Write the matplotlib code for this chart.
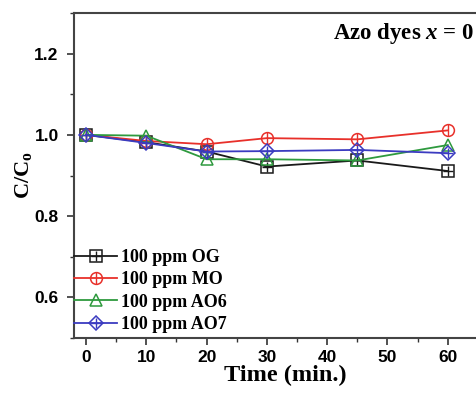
import matplotlib
matplotlib.use("Agg")
import matplotlib.pyplot as plt
from matplotlib.lines import Line2D
from matplotlib.ticker import MultipleLocator

# data
time_min = [0, 10, 20, 30, 45, 60]
og = [1.000, 0.982, 0.959, 0.922, 0.937, 0.911]
mo = [1.000, 0.985, 0.977, 0.992, 0.989, 1.011]
ao6 = [1.000, 0.998, 0.940, 0.940, 0.937, 0.975]
ao7 = [1.000, 0.980, 0.959, 0.960, 0.963, 0.955]
labels = ["100 ppm OG", "100 ppm MO", "100 ppm AO6", "100 ppm AO7"]

plt.rcParams['mathtext.fontset'] = 'custom'
plt.rcParams['mathtext.rm'] = 'Liberation Serif:bold'
plt.rcParams['mathtext.it'] = 'Liberation Serif:italic:bold'

fig = plt.figure(figsize=(4.76, 3.94), dpi=100)
ax = fig.add_axes([74 / 476, 56 / 394, 422 / 476, 325 / 394])

series = [
    (og, '#1a1a1a', 's', '+'),
    (mo, '#e8302a', 'o', '|'),
    (ao6, '#2e9a3e', '^', None),
    (ao7, '#3b3bc0', 'D', '+'),
]

handles = []
for vals, col, mk, inner in series:
    ms = 8.5 if mk != 'D' else 7.5
    ax.plot(time_min, vals, color=col, lw=1.3, marker=mk, ms=ms,
            mfc='none', mec=col, mew=1.1)
    h = [Line2D([], [], color=col, lw=1.3, marker=mk, ms=ms, mfc='none', mec=col, mew=1.1)]
    if inner:
        ims = 8 if inner == '|' else 7
        ax.plot(time_min, vals, ls='none', marker=inner, ms=ims, mec=col, mew=1.0)
        h.append(Line2D([], [], ls='none', marker=inner, ms=ims, mec=col, mew=1.0))
    handles.append(tuple(h))

ax.set_xlim(-2, 68)
ax.set_ylim(0.5, 1.3)
ax.xaxis.set_major_locator(MultipleLocator(10))
ax.xaxis.set_minor_locator(MultipleLocator(5))
ax.yaxis.set_major_locator(MultipleLocator(0.2))
ax.yaxis.set_minor_locator(MultipleLocator(0.1))
ax.tick_params(which='major', direction='out', length=5, width=1.2, color='#333333',
               labelsize=12.5)
ax.tick_params(axis='y', which='major', pad=6)
ax.tick_params(which='minor', direction='out', length=3, width=1.0, color='#333333')
for lab in ax.get_xticklabels() + ax.get_yticklabels():
    lab.set_fontfamily('Liberation Sans')
    lab.set_fontweight('bold')
for s in ['left', 'bottom', 'top']:
    ax.spines[s].set_linewidth(1.5)
    ax.spines[s].set_color('#444444')
ax.spines['right'].set_visible(False)

ax.set_xlabel("Time (min.)", family='Liberation Serif', weight='bold', fontsize=17.5, labelpad=0)
ax.set_ylabel("C/C$_{\\mathrm{o}}$", family='Liberation Serif', weight='bold', fontsize=16, labelpad=0)

ax.text((474 - 74) / 422, 0.975, "Azo dyes $x$ = 0", transform=ax.transAxes,
        ha='right', va='top', family='Liberation Serif', weight='bold', fontsize=16.5)

leg = ax.legend(handles, labels, loc='lower left', bbox_to_anchor=(0.0, 0.015),
                frameon=False, handlelength=2.4, handletextpad=0.2, labelspacing=0.3,
                borderaxespad=0.0, borderpad=0.0,
                prop={'family': 'Liberation Serif', 'weight': 'bold', 'size': 13})

fig.savefig("out.png", dpi=100)
